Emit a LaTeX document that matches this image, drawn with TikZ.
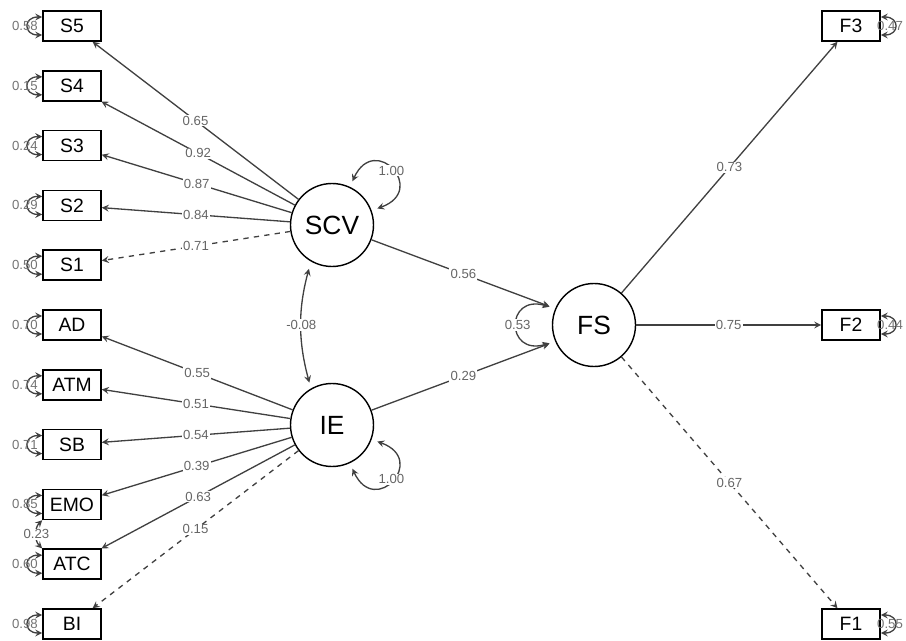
\documentclass[tikz,border=0pt]{standalone}
\usepackage{fontspec}
\setmainfont{Liberation Sans}
\usetikzlibrary{arrows, positioning}
\tikzstyle{indicator} = [rectangle, minimum width=1.16cm, minimum height=0.6cm, text centered, draw=black, line width=0.9pt, font=\fontsize{11}{12}\selectfont]
\tikzstyle{latent} = [circle, minimum size=1.66cm, text centered, draw=black, line width=0.8pt, font=\fontsize{15}{16}\selectfont]
\tikzstyle{arrow} = [draw=black!75, line width=0.75pt, ->, >=stealth]
\tikzstyle{twoway} = [draw=black!75, line width=0.75pt, <->, >=stealth]
\tikzstyle{resid} = [twoway, out=180, in=180, looseness=2.7]
\tikzstyle{weight} = [fill=white, inner sep=0.6pt, text=black!60, font=\fontsize{7.5}{8}\selectfont]
\tikzstyle{resval} = [text=black!55, font=\fontsize{7.5}{8}\selectfont]

\begin{document}
\begin{tikzpicture}[node distance=1.196cm]
			\useasboundingbox (0,0) rectangle (18.12,-12.82);
			% indicators of SCV and IE
			\node (s5) [indicator] at (1.44,-0.52) {S5};
			\node (s4) [indicator, below of=s5] {S4};
			\node (s3) [indicator, below of=s4] {S3};
			\node (s2) [indicator, below of=s3] {S2};
			\node (s1) [indicator, below of=s2] {S1};
			\node (ad) [indicator, below of=s1] {AD};
			\node (atm) [indicator, below of=ad] {ATM};
			\node (sb) [indicator, below of=atm] {SB};
			\node (emo) [indicator, below of=sb] {EMO};
			\node (atc) [indicator, below of=emo] {ATC};
			\node (bi) [indicator, below of=atc] {BI};

			% latent variables
			\node (scv) [latent] at (6.64,-4.5) {SCV};
			\node (ie) [latent] at (6.64,-8.5) {IE};
			\node (fs) [latent] at (11.88,-6.5) {FS};

			% indicators of FS
			\node (f2) [indicator] at (17.02,-6.5) {F2};
			\node (f3) [indicator, above of=f2, yshift=4.784cm] {F3};
			\node (f1) [indicator, below of=f2, yshift=-4.784cm] {F1};

			% loadings
			\draw [arrow] (scv) -- node[weight] {0.65} (s5);
			\draw [arrow] (scv) -- node[weight] {0.92} (s4);
			\draw [arrow] (scv) -- node[weight] {0.87} (s3);
			\draw [arrow] (scv) -- node[weight] {0.84} (s2);
			\draw [arrow, dashed] (scv) -- node[weight] {0.71} (s1);
			\draw [arrow] (ie) -- node[weight] {0.55} (ad);
			\draw [arrow] (ie) -- node[weight] {0.51} (atm);
			\draw [arrow] (ie) -- node[weight] {0.54} (sb);
			\draw [arrow] (ie) -- node[weight] {0.39} (emo);
			\draw [arrow] (ie) -- node[weight] {0.63} (atc);
			\draw [arrow, dashed] (ie) -- node[weight] {0.15} (bi);
			\draw [arrow] (fs) -- node[weight] {0.73} (f3);
			\draw [arrow] (fs) -- node[weight] {0.75} (f2);
			\draw [arrow, dashed] (fs) -- node[weight] {0.67} (f1);

			% structural paths
			\draw [arrow, shorten >=0.12cm] (scv) -- node[weight] {0.56} (fs.157);
			\draw [arrow, shorten >=0.12cm] (ie) -- node[weight] {0.29} (fs.203);

			% variances and covariances
			\draw [twoway, shorten <=0.12cm, shorten >=0.12cm] (scv.65) .. controls +(65:1.2) and +(20:1.2) .. node[weight] {1.00} (scv.20);
			\draw [twoway, shorten <=0.12cm, shorten >=0.12cm] (ie.-20) .. controls +(-20:1.2) and +(-65:1.2) .. node[weight] {1.00} (ie.-65);
			\draw [twoway, shorten <=0.12cm, shorten >=0.12cm] (fs.157) .. controls +(-1.0,0.3) and +(-1.0,-0.3) .. node[weight] {0.53} (fs.203);
			\draw [twoway, shorten <=0.15cm, shorten >=0.12cm] (scv.240) to[bend right=15] node[weight] {-0.08} (ie.120);
			\draw [twoway] (emo.south west) to[bend right=45] node[weight] {0.23} (atc.north west);

			% residuals
			\draw [resid] ([yshift=0.18cm]s5.west) to node[resval, xshift=-0.06cm] {0.58} ([yshift=-0.18cm]s5.west);
			\draw [resid] ([yshift=0.18cm]s4.west) to node[resval, xshift=-0.06cm] {0.15} ([yshift=-0.18cm]s4.west);
			\draw [resid] ([yshift=0.18cm]s3.west) to node[resval, xshift=-0.06cm] {0.24} ([yshift=-0.18cm]s3.west);
			\draw [resid] ([yshift=0.18cm]s2.west) to node[resval, xshift=-0.06cm] {0.29} ([yshift=-0.18cm]s2.west);
			\draw [resid] ([yshift=0.18cm]s1.west) to node[resval, xshift=-0.06cm] {0.50} ([yshift=-0.18cm]s1.west);
			\draw [resid] ([yshift=0.18cm]ad.west) to node[resval, xshift=-0.06cm] {0.70} ([yshift=-0.18cm]ad.west);
			\draw [resid] ([yshift=0.18cm]atm.west) to node[resval, xshift=-0.06cm] {0.74} ([yshift=-0.18cm]atm.west);
			\draw [resid] ([yshift=0.18cm]sb.west) to node[resval, xshift=-0.06cm] {0.71} ([yshift=-0.18cm]sb.west);
			\draw [resid] ([yshift=0.18cm]emo.west) to node[resval, xshift=-0.06cm] {0.85} ([yshift=-0.18cm]emo.west);
			\draw [resid] ([yshift=0.18cm]atc.west) to node[resval, xshift=-0.06cm] {0.60} ([yshift=-0.18cm]atc.west);
			\draw [resid] ([yshift=0.18cm]bi.west) to node[resval, xshift=-0.06cm] {0.98} ([yshift=-0.18cm]bi.west);
			\draw [resid, out=0, in=0] ([yshift=0.18cm]f3.east) to node[resval, xshift=-0.1cm] {0.47} ([yshift=-0.18cm]f3.east);
			\draw [resid, out=0, in=0] ([yshift=0.18cm]f2.east) to node[resval, xshift=-0.1cm] {0.44} ([yshift=-0.18cm]f2.east);
			\draw [resid, out=0, in=0] ([yshift=0.18cm]f1.east) to node[resval, xshift=-0.1cm] {0.55} ([yshift=-0.18cm]f1.east);
		\end{tikzpicture}
\end{document}
